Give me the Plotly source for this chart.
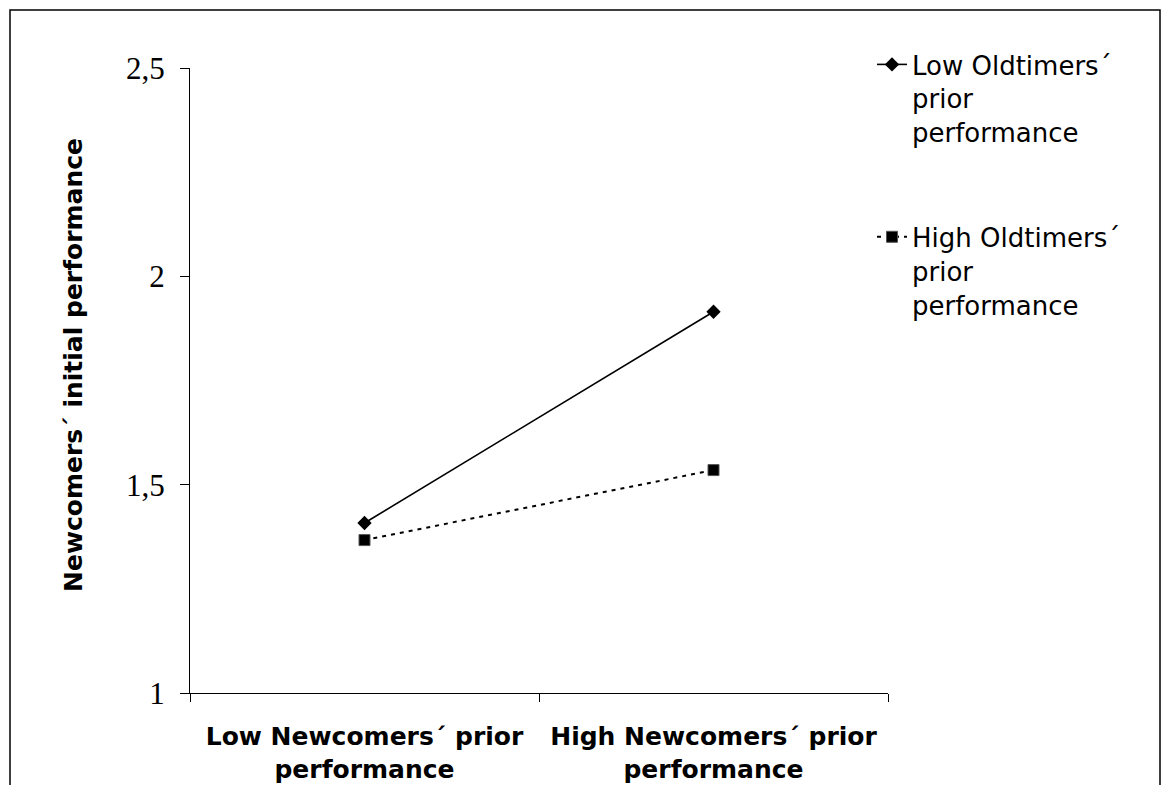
import plotly.graph_objects as go

categories = ["<b>Low Newcomers´ prior<br>performance</b>", "<b>High Newcomers´ prior<br>performance</b>"]
low_oldtimers = [1.408, 1.915]
high_oldtimers = [1.367, 1.535]
series_names = ["Low Oldtimers´<br>prior<br>performance", "High Oldtimers´<br>prior<br>performance"]
y_tickvals = [1, 1.5, 2, 2.5]
y_ticktext = ["1", "1,5", "2", "2,5"]
y_title = "<b>Newcomers´ initial performance</b>"

W, H = 1164, 785
L, T = 190, 68
pw, ph = 698, 625
R = W - L - pw
B = H - T - ph

def px_x(px):
    return (px - L) / pw

def px_y(py):
    return (H - B - py) / ph

SANS = "DejaVu Sans, Arial"

fig = go.Figure()
fig.add_trace(go.Scatter(
    x=categories, y=low_oldtimers, name=series_names[0], mode="lines+markers",
    line=dict(color="black", width=1.6),
    marker=dict(symbol="diamond", size=11, color="black"),
    legendgroup="a",
))
fig.add_trace(go.Scatter(
    x=categories, y=high_oldtimers, name=series_names[1], mode="lines+markers",
    line=dict(color="black", width=2, dash="4px,5px"),
    marker=dict(symbol="square", size=11, color="black", line=dict(color="#555", width=1)),
    legendgroup="b",
))

fig.add_shape(type="rect", xref="paper", yref="paper",
              x0=px_x(10), x1=px_x(1160), y0=px_y(800), y1=px_y(10),
              line=dict(color="black", width=1.5), fillcolor="rgba(0,0,0,0)", layer="below")

fig.add_annotation(
    text=y_title, textangle=-90, showarrow=False,
    xref="paper", yref="paper", x=px_x(73), y=px_y(365),
    xanchor="center", yanchor="middle",
    font=dict(family=SANS, size=25, color="black"),
)

fig.update_layout(
    width=W, height=H,
    margin=dict(l=L, r=R, t=T, b=B, autoexpand=False),
    paper_bgcolor="white", plot_bgcolor="white",
    showlegend=True,
    legend=dict(
        x=px_x(872), y=px_y(41), xanchor="left", yanchor="top",
        font=dict(family=SANS, size=26, color="black"),
        valign="top", tracegroupgap=68, bgcolor="rgba(0,0,0,0)",
        itemwidth=30,
    ),
    xaxis=dict(
        type="category", range=[-0.5, 1.5], tickson="boundaries",
        showline=True, linecolor="black", linewidth=1,
        ticks="outside", ticklen=8, tickcolor="black", tickwidth=1,
        showgrid=False, zeroline=False, automargin=False,
        tickfont=dict(family=SANS, size=25, color="black"),
        ticklabelstandoff=21,
    ),
    yaxis=dict(
        range=[1, 2.5], tickvals=y_tickvals, ticktext=y_ticktext,
        showline=True, linecolor="black", linewidth=1,
        ticks="outside", ticklen=9, tickcolor="black", tickwidth=1,
        showgrid=False, zeroline=False, automargin=False,
        tickfont=dict(family="Liberation Serif, Times New Roman", size=31, color="black"),
        ticklabelstandoff=9,
    ),
)

fig.write_html("out.html",
               config={"displayModeBar": False},
               post_script="document.body.style.margin='0';document.body.style.overflow='hidden';")
